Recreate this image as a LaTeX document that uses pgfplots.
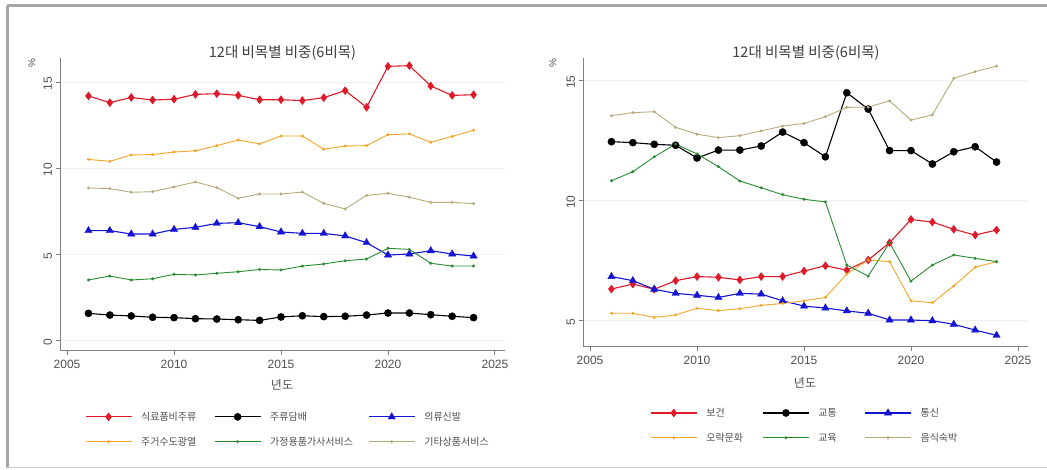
\documentclass[border=0pt]{standalone}
\usepackage{fontspec}
\setmainfont{Liberation Sans}
\newfontfamily\kr{Noto Sans CJK KR}
\usepackage{pgfplots}
\usepackage{pgfplotstable}
\pgfplotsset{compat=1.18}
\definecolor{sred}{RGB}{222,25,40}
\definecolor{sblue}{RGB}{20,20,210}
\definecolor{sorange}{RGB}{245,165,40}
\definecolor{sgreen}{RGB}{40,140,50}
\definecolor{stan}{RGB}{185,170,125}
\definecolor{txt}{RGB}{80,80,80}

\pgfplotstableread{
year a b c d e f
2006 14.19 1.55 6.36 10.50 3.49 8.84
2007 13.80 1.45 6.36 10.39 3.72 8.80
2008 14.10 1.40 6.16 10.76 3.49 8.59
2009 13.95 1.32 6.16 10.78 3.56 8.62
2010 14.00 1.30 6.43 10.93 3.82 8.90
2011 14.28 1.24 6.55 11.00 3.78 9.19
2012 14.32 1.22 6.78 11.30 3.88 8.86
2013 14.22 1.18 6.82 11.63 3.97 8.24
2014 13.97 1.14 6.59 11.40 4.10 8.49
2015 13.97 1.34 6.28 11.86 4.07 8.49
2016 13.92 1.41 6.20 11.86 4.30 8.60
2017 14.09 1.36 6.20 11.09 4.42 7.95
2018 14.50 1.38 6.05 11.28 4.61 7.62
2019 13.53 1.45 5.66 11.30 4.71 8.41
2020 15.91 1.57 4.94 11.94 5.33 8.53
2021 15.95 1.57 5.00 11.98 5.27 8.30
2022 14.77 1.47 5.19 11.49 4.46 8.00
2023 14.22 1.38 5.00 11.84 4.30 8.00
2024 14.26 1.30 4.88 12.19 4.30 7.93
}\lefttab

\pgfplotstableread{
year a b c d e f
2006 6.29 12.43 6.81 5.28 10.80 13.51
2007 6.50 12.39 6.64 5.28 11.18 13.64
2008 6.28 12.32 6.28 5.11 11.80 13.68
2009 6.64 12.28 6.11 5.21 12.33 13.03
2010 6.81 11.75 6.03 5.49 11.92 12.74
2011 6.78 12.08 5.94 5.39 11.39 12.60
2012 6.67 12.08 6.11 5.47 10.79 12.68
2013 6.81 12.25 6.08 5.61 10.51 12.88
2014 6.81 12.83 5.80 5.69 10.22 13.08
2015 7.04 12.39 5.58 5.80 10.03 13.19
2016 7.26 11.80 5.50 5.94 9.92 13.47
2017 7.08 14.47 5.38 6.92 7.29 13.86
2018 7.50 13.79 5.28 7.50 6.83 13.87
2019 8.22 12.06 5.00 7.43 8.22 14.13
2020 9.19 12.06 5.00 5.80 6.62 13.33
2021 9.08 11.50 4.97 5.72 7.29 13.55
2022 8.78 12.01 4.82 6.42 7.71 15.07
2023 8.54 12.22 4.58 7.20 7.57 15.35
2024 8.75 11.58 4.36 7.43 7.43 15.58
}\righttab

\pgfplotsset{
  panel/.style={
    scale only axis,
    width=445pt,
    axis lines*=left,
    axis line style={draw=black!50, line width=0.9pt},
    tick style={draw=black!50, line width=0.9pt},
    tick align=outside,
    major tick length=4.5pt,
    xmin=2004.67, xmax=2025.47,
    xtick={2005,2010,2015,2020,2025},
    /pgf/number format/1000 sep={},
    /pgf/number format/assume math mode=true,
    xticklabel style={font=\fontsize{12}{12}\selectfont, text=txt, yshift=-2pt},
    yticklabel style={rotate=90, anchor=south, font=\fontsize{12}{12}\selectfont, text=txt, xshift=-2pt},
    ymajorgrids,
    grid style={draw=black!6, line width=0.8pt},
    legend columns=3,
    legend cell align=left,
    legend style={draw=none, fill=none, font=\kr\fontsize{10}{10}\selectfont, text=txt,
      anchor=north west, row sep=11pt,
      /tikz/every odd column/.append style={column sep=7pt}},
    legend image code/.code={\draw[mark repeat=2,mark phase=2] plot coordinates {(0pt,0pt) (23pt,0pt) (46pt,0pt)};},
    clip=false,
  },
  sA/.style={color=sred, line width=1.1pt, mark=diamond*, mark size=4pt, mark options={solid, line width=0.4pt}},
  sB/.style={color=black, line width=1.1pt, mark=*, mark size=3.6pt, mark options={solid, line width=0.4pt}},
  sC/.style={color=sblue, line width=1.1pt, mark=triangle*, mark size=4.2pt, mark options={solid, line width=0.4pt}},
  sD/.style={color=sorange, line width=0.9pt, mark=*, mark size=1pt},
  sE/.style={color=sgreen, line width=0.9pt, mark=*, mark size=1pt},
  sF/.style={color=stan, line width=0.9pt, mark=*, mark size=1pt},
}

\begin{document}
\begin{tikzpicture}
\path[fill=white] (0,0) rectangle (1047pt,469pt);
% outer frame
\draw[black!35, line width=3pt] (7pt,463pt) -- (1047pt,463pt);
\draw[black!35, line width=3pt] (7pt,463pt) -- (7pt,1pt);
\draw[black!20, line width=1.5pt] (7pt,1.5pt) -- (1047pt,1.5pt);

% ---------- left panel ----------
\begin{axis}[panel, at={(60pt,119pt)}, anchor=south west, height=292pt,
  ymin=-0.581, ymax=16.395, ytick={0,5,10,15},
  legend style={at={(0.049,-0.198)}}]
\addplot[sA] table[x=year,y=a]{\lefttab};
\addlegendentry{\makebox[71pt][l]{식료품비주류}}
\addplot[sB] table[x=year,y=b]{\lefttab};
\addlegendentry{\makebox[96pt][l]{주류담배}}
\addplot[sC] table[x=year,y=c]{\lefttab};
\addlegendentry{의류신발}
\addplot[sD] table[x=year,y=d]{\lefttab};
\addlegendentry{\makebox[71pt][l]{주거수도광열}}
\addplot[sE] table[x=year,y=e]{\lefttab};
\addlegendentry{\makebox[96pt][l]{가정용품가사서비스}}
\addplot[sF] table[x=year,y=f]{\lefttab};
\addlegendentry{기타상품서비스}
\end{axis}

% ---------- right panel ----------
\begin{axis}[panel, at={(583pt,123pt)}, anchor=south west, height=288pt,
  ymin=3.917, ymax=15.917, ytick={5,10,15},
  legend style={at={(0.144,-0.201)}}]
\addplot[sA] table[x=year,y=a]{\righttab};
\addlegendentry{\makebox[54pt][l]{보건}}
\addplot[sB] table[x=year,y=b]{\righttab};
\addlegendentry{\makebox[44pt][l]{교통}}
\addplot[sC] table[x=year,y=c]{\righttab};
\addlegendentry{통신}
\addplot[sD] table[x=year,y=d]{\righttab};
\addlegendentry{\makebox[54pt][l]{오락문화}}
\addplot[sE] table[x=year,y=e]{\righttab};
\addlegendentry{\makebox[44pt][l]{교육}}
\addplot[sF] table[x=year,y=f]{\righttab};
\addlegendentry{음식숙박}
\end{axis}

% titles and labels
\node[font=\kr\fontsize{14.5}{14.5}\selectfont, text=black!75] at (282.5pt,416pt) {12대 비목별 비중(6비목)};
\node[font=\kr\fontsize{14.5}{14.5}\selectfont, text=black!75] at (806pt,416pt) {12대 비목별 비중(6비목)};
\node[font=\kr\fontsize{12}{12}\selectfont, text=txt] at (282pt,84pt) {년도};
\node[font=\kr\fontsize{12}{12}\selectfont, text=txt] at (805pt,86pt) {년도};
\node[rotate=90, font=\fontsize{10}{10}\selectfont, text=txt] at (32pt,406pt) {\%};
\node[rotate=90, font=\fontsize{10}{10}\selectfont, text=txt] at (553pt,406pt) {\%};

\pgfresetboundingbox
\path (0,0) rectangle (1047pt,469pt);
\end{tikzpicture}
\end{document}
